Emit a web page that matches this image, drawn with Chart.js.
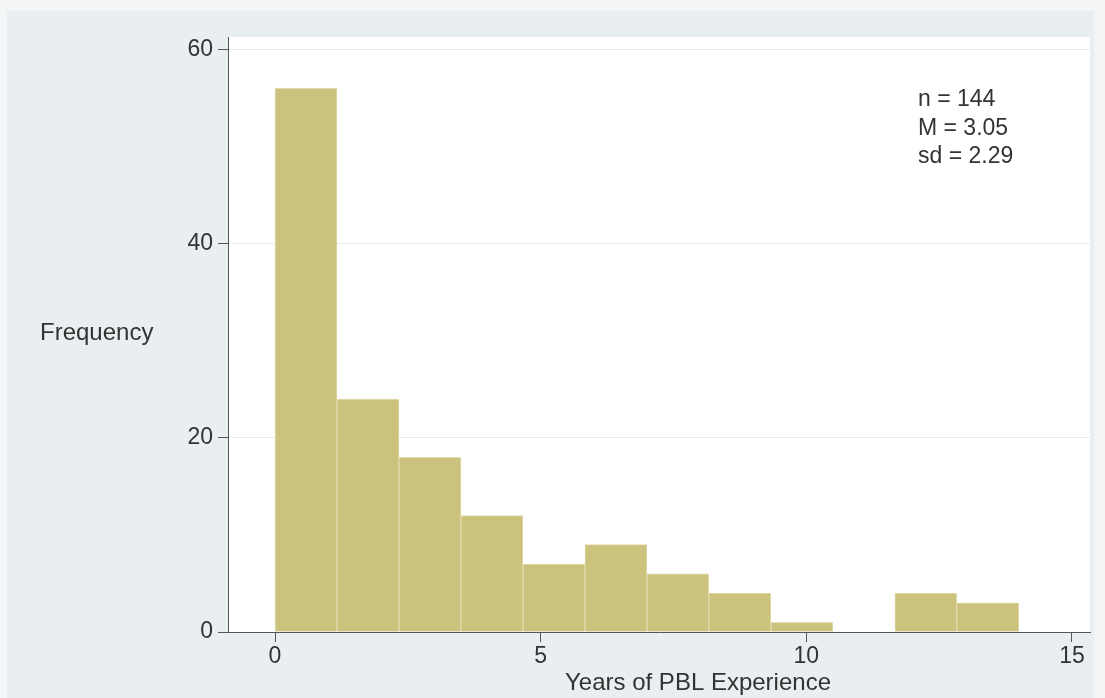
<!DOCTYPE html>
<html>
<head>
<meta charset="utf-8">
<script src="https://cdn.jsdelivr.net/npm/chart.js@4"></script>
<style>
    html, body { margin: 0; padding: 0; background: #f4f5f6; }
    #wrap { width: 1105px; height: 698px; }
</style>
</head>
<body>
<div id="wrap"><canvas id="hist" width="1105" height="698"></canvas></div>
<script>
// Histograma: años de experiencia PBL
const binLow = 0;
const binHigh = 14;
const binCounts = [56, 24, 18, 12, 7, 9, 6, 4, 1, 0, 4, 3];
const xTicks = [0, 5, 10, 15];
const yTicks = [0, 20, 40, 60];
const statsLines = ['n = 144', 'M = 3.05', 'sd = 2.29'];
const xTitle = 'Years of PBL Experience';
const yTitle = 'Frequency';

const FONT = "'Liberation Sans', Arial, sans-serif";
const binWidth = (binHigh - binLow) / binCounts.length;

// puntos centrados en cada intervalo
const points = binCounts.map((c, i) => ({ x: binLow + (i + 0.5) * binWidth, y: c }));

const backgroundPlugin = {
    id: 'stataBackground',
    beforeDraw: (chart) => {
        const { ctx, chartArea } = chart;
        ctx.save();
        ctx.fillStyle = '#f4f5f6';
        ctx.fillRect(0, 0, chart.width, chart.height);
        ctx.fillStyle = '#e9eff1';
        ctx.fillRect(7, 11, 1087, 687);
        ctx.fillStyle = '#ffffff';
        ctx.fillRect(chartArea.left, chartArea.top, chartArea.right - chartArea.left, chartArea.bottom - chartArea.top);
        ctx.restore();
    },
    afterDraw: (chart) => {
        const { ctx } = chart;
        ctx.save();
        ctx.fillStyle = '#333333';
        ctx.font = '24px ' + FONT;
        ctx.textBaseline = 'middle';

        // títulos de ejes
        ctx.textAlign = 'left';
        ctx.fillText(yTitle, 40, 333);
        ctx.textAlign = 'center';
        ctx.fillText(xTitle, 698, 683);

        // estadísticos
        ctx.font = '23px ' + FONT;
        ctx.textAlign = 'left';
        statsLines.forEach((line, i) => {
            ctx.fillText(line, 918, 100 + i * 28.5);
        });
        ctx.restore();
    }
};

const config = {
    type: 'bar',
    data: {
        datasets: [{
            data: points,
            backgroundColor: '#cbc27e',
            borderColor: '#e2dcae',
            borderWidth: 1,
            borderSkipped: 'bottom',
            categoryPercentage: 1.0,
            barPercentage: 1.0
        }]
    },
    options: {
        responsive: false,
        animation: false,
        layout: { padding: { left: 0, top: 37, right: 15, bottom: 0 } },
        plugins: {
            legend: { display: false },
            tooltip: { enabled: false }
        },
        scales: {
            x: {
                type: 'linear',
                offset: false,
                min: -0.885,
                max: 15.34,
                afterBuildTicks: (scale) => { scale.ticks = xTicks.map(v => ({ value: v })); },
                afterFit: (scale) => { scale.height = 66; },
                grid: {
                    offset: false,
                    drawOnChartArea: false,
                    drawTicks: true,
                    tickLength: 10,
                    tickColor: '#555555'
                },
                border: { display: true, color: '#555555', width: 1 },
                ticks: {
                    color: '#333333',
                    font: { family: FONT, size: 23 },
                    padding: 1,
                    maxRotation: 0
                }
            },
            y: {
                min: 0,
                max: 61.3,
                afterBuildTicks: (scale) => { scale.ticks = yTicks.map(v => ({ value: v })); },
                afterFit: (scale) => { scale.width = 228; },
                grid: {
                    color: (c) => c.tick && c.tick.value === 0 ? 'rgba(0,0,0,0)' : '#e4ecee',
                    drawTicks: true,
                    tickLength: 10,
                    tickColor: '#555555'
                },
                border: { display: true, color: '#555555', width: 1 },
                ticks: {
                    color: '#333333',
                    font: { family: FONT, size: 23 },
                    padding: 5
                }
            }
        }
    },
    plugins: [backgroundPlugin]
};

new Chart(document.getElementById('hist'), config);
</script>
</body>
</html>
